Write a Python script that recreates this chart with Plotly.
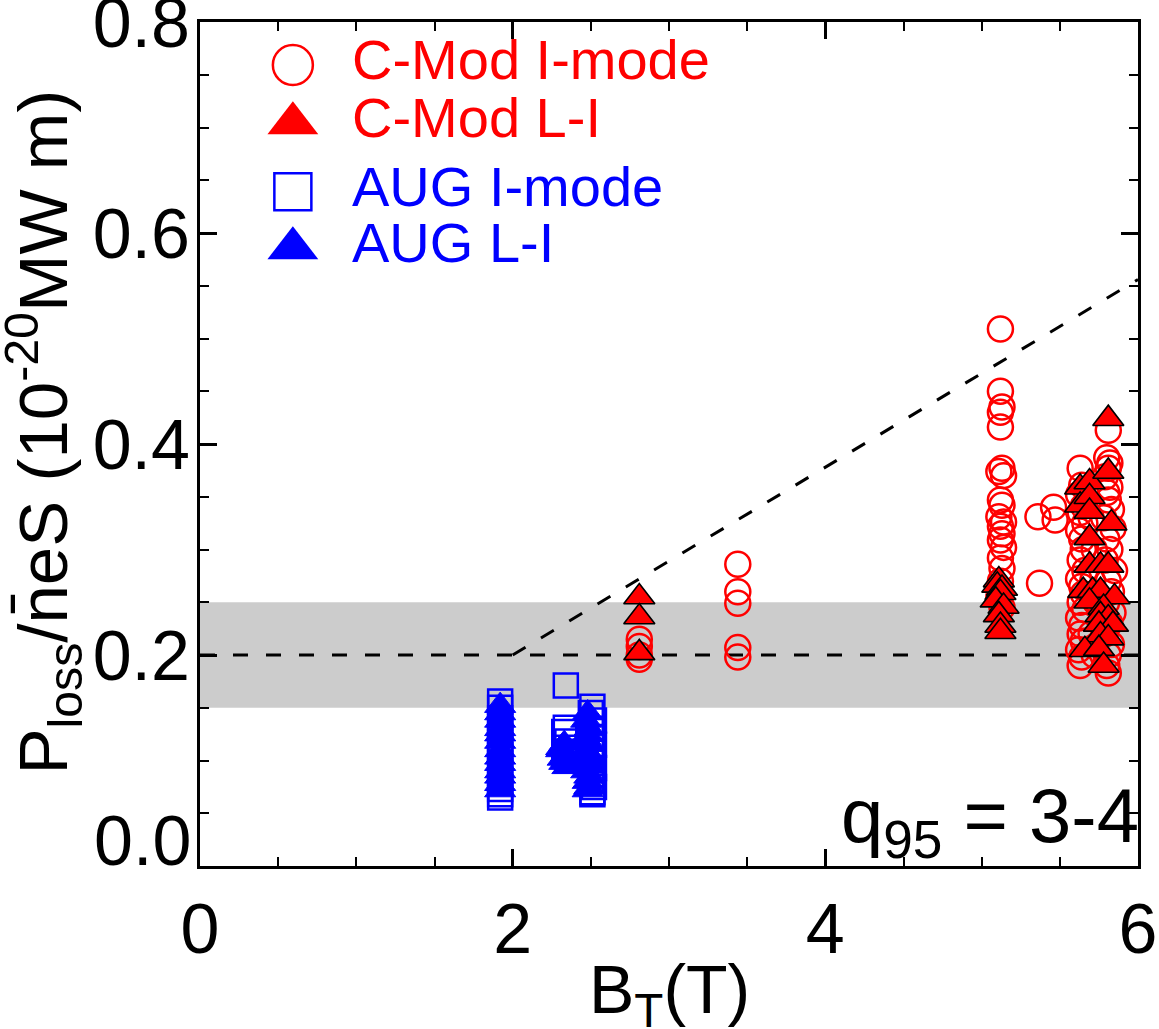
import plotly.graph_objects as go

FONT = "Liberation Sans, Arial, Helvetica, sans-serif"
RED = "#ff0000"
BLUE = "#0000ff"

# ---- C-Mod I-mode (open circles) ----
cmod_imode_x = [2.81, 2.81, 2.81, 2.81,
                3.44, 3.44, 3.44, 3.44, 3.44,
                5.12, 5.12, 5.13, 5.12, 5.12, 5.13, 5.11, 5.14, 5.12, 5.13,
                5.11, 5.14, 5.12, 5.13, 5.12, 5.14, 5.12, 5.13, 5.12, 5.11, 5.13,
                5.36, 5.46, 5.47, 5.37,
                5.63, 5.64, 5.62, 5.65, 5.63, 5.66, 5.62, 5.64, 5.65, 5.63,
                5.66, 5.62, 5.64, 5.65, 5.63, 5.66, 5.62, 5.64, 5.63, 5.65,
                5.62, 5.64, 5.63,
                5.81, 5.80, 5.82, 5.81, 5.79, 5.82, 5.80, 5.81, 5.83, 5.78,
                5.84, 5.80, 5.82, 5.79, 5.85, 5.81, 5.83, 5.80, 5.84, 5.82,
                5.79, 5.83, 5.81, 5.80, 5.81,
                5.70, 5.72, 5.71, 5.73, 5.70, 5.72]
cmod_imode_y = [0.215, 0.208, 0.200, 0.196,
                0.286, 0.260, 0.249, 0.207, 0.198,
                0.509, 0.450, 0.435, 0.430, 0.416, 0.377, 0.374, 0.370, 0.347, 0.342,
                0.331, 0.326, 0.322, 0.315, 0.309, 0.302, 0.292, 0.282, 0.270, 0.255, 0.245,
                0.331, 0.340, 0.328, 0.268,
                0.377, 0.361, 0.352, 0.341, 0.335, 0.325, 0.318, 0.310, 0.300, 0.290,
                0.280, 0.272, 0.265, 0.258, 0.250, 0.243, 0.235, 0.228, 0.220, 0.213,
                0.205, 0.198, 0.190,
                0.413, 0.387, 0.382, 0.377, 0.369, 0.359, 0.354, 0.347, 0.338, 0.330,
                0.320, 0.310, 0.300, 0.290, 0.280, 0.270, 0.260, 0.250, 0.240, 0.230,
                0.220, 0.210, 0.200, 0.190, 0.183,
                0.330, 0.300, 0.270, 0.250, 0.220, 0.200]

# ---- C-Mod L-I transitions (filled triangles) ----
cmod_li_x = [2.81, 2.81, 2.81,
             5.11, 5.10, 5.13, 5.12, 5.09, 5.14, 5.11, 5.12, 5.12,
             5.81, 5.63, 5.69, 5.63, 5.69, 5.69, 5.83, 5.69, 5.69, 5.76,
             5.81, 5.65, 5.71, 5.76, 5.85, 5.69, 5.78, 5.76, 5.81, 5.75,
             5.84, 5.76, 5.81, 5.66, 5.75, 5.78, 5.81]
cmod_li_y = [0.255, 0.236, 0.202,
             0.271, 0.266, 0.263, 0.259, 0.252, 0.246, 0.238, 0.228, 0.222,
             0.424, 0.359, 0.364, 0.342, 0.350, 0.336, 0.325, 0.311, 0.285, 0.285,
             0.285, 0.261, 0.261, 0.261, 0.255, 0.251, 0.245, 0.238, 0.235, 0.229,
             0.229, 0.219, 0.216, 0.205, 0.206, 0.190, 0.374]

# ---- AUG I-mode (open squares) ----
aug_imode_x = [1.92] * 14 + [2.34, 2.34, 2.33, 2.35, 2.34, 2.33, 2.35] + \
              [2.51, 2.50, 2.52, 2.51, 2.50, 2.52, 2.51, 2.50, 2.52, 2.51, 2.50, 2.52, 2.51, 2.51]
aug_imode_y = [0.156, 0.150, 0.140, 0.133, 0.125, 0.120, 0.112, 0.105, 0.098, 0.090,
               0.080, 0.073, 0.068, 0.065,
               0.171, 0.131, 0.127, 0.118, 0.112, 0.105, 0.100,
               0.151, 0.145, 0.138, 0.130, 0.122, 0.115, 0.108, 0.100, 0.093, 0.087,
               0.080, 0.075, 0.070, 0.068]

# ---- AUG L-I transitions (filled triangles) ----
aug_li_x = [1.92] * 13 + [2.33, 2.31, 2.34, 2.32, 2.33, 2.35, 2.31] + \
           [2.48, 2.47, 2.49, 2.48, 2.46, 2.50, 2.47, 2.49, 2.48, 2.50, 2.47, 2.49, 2.48, 2.49, 2.48]
aug_li_y = [0.152, 0.145, 0.138, 0.130, 0.125, 0.118, 0.110, 0.103, 0.097, 0.090,
            0.085, 0.078, 0.072,
            0.116, 0.110, 0.106, 0.102, 0.098, 0.094, 0.112,
            0.145, 0.138, 0.130, 0.125, 0.120, 0.115, 0.110, 0.105, 0.100, 0.095,
            0.090, 0.085, 0.080, 0.075, 0.072]

# ---- reference lines ----
flat_x = [0, 6]
flat_y = [0.2, 0.2]
slope_x = [2, 6]
slope_y = [0.2, 0.556]
band_lo, band_hi = 0.15, 0.25

x_ticks = [0, 2, 4, 6]
y_ticks = [0.0, 0.2, 0.4, 0.6, 0.8]
legend_labels = ["C-Mod I-mode", "C-Mod L-I", "AUG I-mode", "AUG L-I"]

fig = go.Figure()

dash_line = dict(color="black", width=3, dash="15px,18px")
fig.add_trace(go.Scatter(x=flat_x, y=flat_y, mode="lines", line=dash_line,
                         showlegend=False, hoverinfo="skip"))
fig.add_trace(go.Scatter(x=slope_x, y=slope_y, mode="lines", line=dash_line,
                         showlegend=False, hoverinfo="skip"))

fig.add_trace(go.Scatter(x=aug_imode_x, y=aug_imode_y, mode="markers",
                         marker=dict(symbol="square-open", size=24, color=BLUE,
                                     line=dict(width=2.5, color=BLUE)),
                         showlegend=False))
fig.add_trace(go.Scatter(x=aug_li_x, y=aug_li_y, mode="markers",
                         marker=dict(symbol="triangle-up", size=27, color=BLUE,
                                     line=dict(width=1, color=BLUE)),
                         showlegend=False))
fig.add_trace(go.Scatter(x=cmod_imode_x, y=cmod_imode_y, mode="markers",
                         marker=dict(symbol="circle-open", size=25, color=RED,
                                     line=dict(width=2.5, color=RED)),
                         showlegend=False))
fig.add_trace(go.Scatter(x=cmod_li_x, y=cmod_li_y, mode="markers",
                         marker=dict(symbol="triangle-up", size=27, color=RED,
                                     line=dict(width=1.6, color="black")),
                         showlegend=False))

# hand-built key on an overlay axis in plot fractions
key_x = [0.099] * 4
key_y = [0.949, 0.880, 0.799, 0.732]
key_symbols = ["circle-open", "triangle-up", "square-open", "triangle-up"]
key_sizes = [40, 44, 37, 44]
key_colors = [RED, RED, BLUE, BLUE]
for i in range(4):
    fig.add_trace(go.Scatter(
        x=[key_x[i]], y=[key_y[i]], xaxis="x2", yaxis="y2", mode="markers",
        marker=dict(symbol=key_symbols[i], size=key_sizes[i], color=key_colors[i],
                    line=dict(width=2.5 if "open" in key_symbols[i] else 0,
                              color=key_colors[i])),
        showlegend=False, hoverinfo="skip", cliponaxis=False))
    fig.add_annotation(x=0.16, y=key_y[i] + 0.007, xref="paper", yref="paper",
                       text=legend_labels[i], showarrow=False,
                       xanchor="left", yanchor="middle", height=56,
                       font=dict(size=56, color=key_colors[i], family=FONT))

fig.add_shape(type="rect", xref="x", yref="y", x0=0, x1=6, y0=band_lo, y1=band_hi,
              fillcolor="#cccccc", line=dict(width=0), layer="below")

fig.add_annotation(x=1.003, y=-0.006, xref="paper", yref="paper",
                   text="q<sub>95</sub> = 3-4", showarrow=False,
                   xanchor="right", yanchor="bottom",
                   font=dict(size=76, color="black", family=FONT))

# the lowest y label sits raised, bottom-aligned with the x axis
fig.add_annotation(x=-0.0075, y=0.03, xref="paper", yref="paper",
                   text=f"{y_ticks[0]:.1f}", showarrow=False,
                   xanchor="right", yanchor="middle",
                   font=dict(size=70, color="black", family=FONT))

fig.add_annotation(x=-0.168, y=0.514, xref="paper", yref="paper",
                   text="P<sub>loss</sub>/n\u0304eS (10<sup>-20</sup>MW m)",
                   textangle=-90, showarrow=False,
                   xanchor="center", yanchor="middle",
                   font=dict(size=69, color="black", family=FONT))
fig.add_annotation(x=0.5, y=-0.152, xref="paper", yref="paper",
                   text="B<sub>T</sub>(T)", showarrow=False,
                   xanchor="center", yanchor="middle",
                   font=dict(size=68, color="black", family=FONT))

axis_common = dict(showline=True, linewidth=3, linecolor="black", mirror="ticks",
                   ticks="inside", ticklen=17, tickwidth=3, tickcolor="black",
                   showgrid=False, zeroline=False, ticklabeloverflow="allow",
                   automargin=False,
                   tickfont=dict(size=70, color="black", family=FONT))

fig.update_layout(
    width=1159, height=1029,
    margin=dict(l=200, r=21, t=22, b=163, autoexpand=False),
    paper_bgcolor="white", plot_bgcolor="white",
    showlegend=False,
    font=dict(family=FONT, color="black"),
    xaxis=dict(range=[0, 6], tickmode="array", tickvals=x_ticks,
               ticktext=[str(v) for v in x_ticks],
               minor=dict(ticks="inside", dtick=0.5, tick0=0, ticklen=9, tickwidth=2,
                          tickcolor="black"),
               **axis_common),
    yaxis=dict(range=[0, 0.8], tickmode="array", tickvals=y_ticks,
               ticktext=[""] + [f"{v:.1f}" for v in y_ticks[1:]],
               ticklabelstandoff=-7,
               minor=dict(ticks="inside", dtick=0.05, tick0=0, ticklen=9, tickwidth=2,
                          tickcolor="black"),
               **axis_common),
    xaxis2=dict(overlaying="x", anchor="y2", range=[0, 1], visible=False),
    yaxis2=dict(overlaying="y", anchor="x2", range=[0, 1], visible=False),
)

fig.write_html("out.html")
